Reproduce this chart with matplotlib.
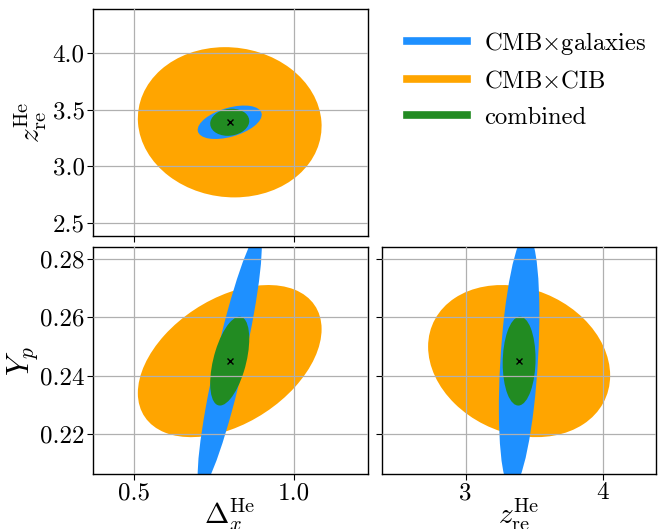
import numpy as np
import matplotlib
matplotlib.use("Agg")
import matplotlib.pyplot as plt
from matplotlib.patches import Ellipse
from matplotlib.lines import Line2D

plt.rcParams['font.family'] = 'serif'
plt.rcParams['font.serif'] = ['cmr10']
plt.rcParams['mathtext.fontset'] = 'cm'
plt.rcParams['axes.unicode_minus'] = False
plt.rcParams['axes.formatter.use_mathtext'] = True

# parameters: Delta_x^He, z_re^He, Y_p
param_labels = [r'$\Delta_x^{\rm He}$', r'$z_{\rm re}^{\rm He}$', r'$Y_p$']
fiducial = [0.80, 3.39, 0.245]

series_names = [r'CMB$\times$galaxies', r'CMB$\times$CIB', 'combined']
series_colors = ['dodgerblue', 'orange', 'forestgreen']

# marginal 1-sigma errors (Delta_x, z_re, Y_p)
sigma_gal = [0.100, 0.148, 0.0434]
sigma_cib = [0.287, 0.665, 0.026]
sigma_comb = [0.061, 0.120, 0.0152]
# correlations (Dx-z, Dx-Yp, z-Yp)
rho_gal = [0.45, 0.89, 0.37]
rho_cib = [-0.05, 0.42, -0.19]
rho_comb = [0.10, 0.50, 0.05]

xlim_dx = (0.372, 1.231)
lim_z = (2.386, 4.39)
ylim_yp = (0.2063, 0.2841)
ticks_dx = [0.5, 1.0]
ticks_z_y = [2.5, 3.0, 3.5, 4.0]
ticks_z_x = [3, 4]
ticks_yp = [0.22, 0.24, 0.26, 0.28]

n_sigma = 1.0
pair_index = {(0, 1): 0, (0, 2): 1, (1, 2): 2}


def ellipse_for(sig, rho, i, j, color):
    r = rho[pair_index[(i, j)]]
    cov = np.array([[sig[i] ** 2, r * sig[i] * sig[j]],
                    [r * sig[i] * sig[j], sig[j] ** 2]])
    vals, vecs = np.linalg.eigh(cov)
    order = vals.argsort()[::-1]
    vals, vecs = vals[order], vecs[:, order]
    angle = np.degrees(np.arctan2(vecs[1, 0], vecs[0, 0]))
    return Ellipse((fiducial[i], fiducial[j]),
                   width=2 * n_sigma * np.sqrt(vals[0]),
                   height=2 * n_sigma * np.sqrt(vals[1]),
                   angle=angle, facecolor=color, edgecolor='none', zorder=1)


fig = plt.figure(figsize=(6.67, 5.29), dpi=100)
W, H = 667, 529
def add_ax(x0, y0, x1, y1):
    return fig.add_axes([x0 / W, 1 - y1 / H, (x1 - x0) / W, (y1 - y0) / H])

ax_tl = add_ax(92.7, 9.3, 367.7, 235.7)
ax_bl = add_ax(92.7, 246.7, 367.7, 474.3)
ax_br = add_ax(381.7, 246.7, 656.0, 474.3)

draw_order = [(sigma_cib, rho_cib, series_colors[1]),
              (sigma_gal, rho_gal, series_colors[0]),
              (sigma_comb, rho_comb, series_colors[2])]

panels = [(ax_tl, 0, 1), (ax_bl, 0, 2), (ax_br, 1, 2)]
for ax, i, j in panels:
    for sig, rho, col in draw_order:
        ax.add_patch(ellipse_for(sig, rho, i, j, col))
    ax.plot(fiducial[i], fiducial[j], marker='x', color='black', ms=4,
            mew=1.0, ls='none', zorder=5)
    ax.set_axisbelow(False)
    ax.grid(True, color='#b0b0b0', lw=0.9, zorder=3)
    ax.tick_params(labelsize=18, length=4.3, width=0.8, pad=1.5)
    for s in ax.spines.values():
        s.set_linewidth(1.0)

ax_tl.set_xlim(*xlim_dx)
ax_tl.set_ylim(*lim_z)
ax_tl.set_xticks(ticks_dx)
ax_tl.set_xticklabels([])
ax_tl.set_yticks(ticks_z_y)
ax_tl.set_yticklabels(['2.5', '3.0', '3.5', '4.0'])
ax_tl.set_ylabel(param_labels[1], fontsize=21)
ax_tl.yaxis.set_label_coords(-0.158, 0.5)

ax_bl.set_xlim(*xlim_dx)
ax_bl.set_ylim(*ylim_yp)
ax_bl.set_xticks(ticks_dx)
ax_bl.set_xticklabels(['0.5', '1.0'])
ax_bl.set_yticks(ticks_yp)
ax_bl.set_yticklabels(['0.22', '0.24', '0.26', '0.28'])
ax_bl.set_xlabel(param_labels[0], fontsize=21)
ax_bl.xaxis.set_label_coords(0.5, -0.095)
ax_bl.set_ylabel(param_labels[2], fontsize=22)
ax_bl.yaxis.set_label_coords(-0.193, 0.5)

ax_br.set_xlim(*lim_z)
ax_br.set_ylim(*ylim_yp)
ax_br.set_xticks(ticks_z_x)
ax_br.set_xticklabels(['3', '4'])
ax_br.set_yticks(ticks_yp)
ax_br.set_yticklabels([])
ax_br.set_xlabel(param_labels[1], fontsize=21)
ax_br.xaxis.set_label_coords(0.5, -0.095)

handles = [Line2D([], [], color=c, lw=5.5) for c in series_colors]
fig.legend(handles, series_names, loc='upper left',
           bbox_to_anchor=(407 / W, 1 - 30 / H), frameon=False,
           fontsize=17.7, handlelength=2.45, handletextpad=0.68,
           labelspacing=0.56, borderaxespad=0, borderpad=0)

fig.savefig('out.png', dpi=100)
